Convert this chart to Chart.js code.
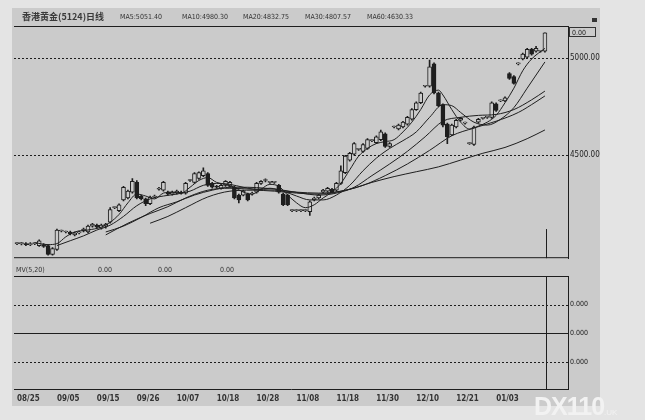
<!DOCTYPE html>
<html>
<head>
<meta charset="utf-8">
<script src="https://cdn.jsdelivr.net/npm/chart.js@4.4.0/dist/chart.umd.min.js"></script>
<style>
html, body { margin: 0; padding: 0; background: #e4e4e4; }
#wrap { position: relative; width: 645px; height: 420px; overflow: hidden; font-family: 'DejaVu Sans Condensed', 'Liberation Sans Narrow', 'Liberation Sans', sans-serif; }
#panel { position: absolute; left: 12px; top: 8px; width: 588px; height: 398px; background: #cbcbcb; }
canvas { position: absolute; left: 0; }
#c1 { top: 0; }
#c2 { top: 265px; }
.t { position: absolute; font-size: 7px; color: #333; white-space: nowrap; line-height: 9px; }
#title { font-family: 'Noto Sans CJK SC', sans-serif; font-size: 9px; font-weight: bold; color: #3a3a3a; }
#box { position: absolute; left: 569px; top: 27px; width: 27px; height: 10px; border: 1px solid #333; font-size: 7px; line-height: 10px; padding-left: 2px; box-sizing: border-box; color: #222; }
#logo { position: absolute; left: 534px; top: 392px; font: bold 25px 'Liberation Sans', sans-serif; color: #f2f2f2; letter-spacing: -1px; }
#logo span { font-size: 8px; font-weight: normal; letter-spacing: 0; }
</style>
</head>
<body>
<div id="wrap">
  <div id="panel"></div>
  <canvas id="c1" width="645" height="265"></canvas>
  <canvas id="c2" width="645" height="155"></canvas>
  <div class="t" id="title" style="left:22px;top:12px">香港黄金(5124)日线</div>
  <div id="box">0.00</div>
  <div class="t" style="left:592px;top:18px;width:5px;height:4px;background:#333"></div>
  <div class="t" style="left:16px;top:266px">MV(5,20)</div>
  <div id="logo">DX110<span>.UK</span></div>
</div>
<script>
// candles, one per trading day
const opens = [
  4045, 4045, 4045, 4040, 4045, 4035, 4040, 4035, 3990, 4015,
  4110, 4105, 4105, 4090, 4100, 4110, 4105, 4135, 4140, 4125,
  4135, 4155, 4230, 4215, 4270, 4280, 4310, 4360, 4290, 4275,
  4250, 4285, 4325, 4320, 4310, 4300, 4305, 4310, 4305, 4370,
  4360, 4380, 4395, 4405, 4355, 4340, 4330, 4345, 4340, 4335,
  4295, 4295, 4300, 4300, 4310, 4355, 4370, 4360, 4360, 4345,
  4300, 4295, 4215, 4215, 4215, 4215, 4210, 4270, 4280, 4310,
  4315, 4325, 4320, 4355, 4410, 4475, 4505, 4530, 4520, 4535,
  4575, 4565, 4580, 4610, 4545, 4645, 4635, 4645, 4660, 4685,
  4735, 4770, 4855, 4855, 4970, 4820, 4760, 4660, 4605, 4645,
  4680, 4665, 4560, 4555, 4670, 4690, 4695, 4695, 4765, 4780,
  4780, 4920, 4905, 4970, 4995, 5005, 5045, 5035, 5035, 5035
];
const closes = [
  4045, 4045, 4040, 4045, 4045, 4060, 4030, 3990, 4020, 4115,
  4110, 4105, 4095, 4100, 4105, 4120, 4135, 4145, 4130, 4140,
  4145, 4220, 4230, 4245, 4335, 4315, 4365, 4280, 4275, 4250,
  4285, 4290, 4330, 4360, 4300, 4310, 4315, 4305, 4355, 4370,
  4405, 4410, 4420, 4345, 4335, 4335, 4345, 4365, 4360, 4280,
  4270, 4315, 4270, 4305, 4355, 4365, 4370, 4360, 4360, 4310,
  4245, 4245, 4215, 4215, 4215, 4215, 4260, 4280, 4295, 4320,
  4330, 4310, 4355, 4420, 4495, 4510, 4560, 4530, 4555, 4580,
  4575, 4595, 4620, 4545, 4560, 4645, 4655, 4670, 4695, 4735,
  4770, 4820, 4855, 4955, 4820, 4755, 4655, 4595, 4655, 4680,
  4690, 4665, 4560, 4645, 4685, 4690, 4695, 4770, 4730, 4780,
  4795, 4895, 4870, 4970, 5020, 5045, 5020, 5050, 5035, 5130
];
const highs = [
  4050, 4052, 4050, 4050, 4050, 4065, 4045, 4040, 4025, 4120,
  4115, 4110, 4110, 4105, 4110, 4125, 4140, 4150, 4145, 4145,
  4150, 4230, 4235, 4250, 4340, 4320, 4380, 4370, 4295, 4280,
  4290, 4295, 4335, 4365, 4315, 4315, 4320, 4315, 4360, 4375,
  4410, 4415, 4435, 4410, 4360, 4345, 4350, 4370, 4365, 4340,
  4300, 4320, 4305, 4310, 4360, 4370, 4378, 4365, 4365, 4350,
  4305, 4300, 4220, 4220, 4220, 4220, 4265, 4285, 4300, 4325,
  4335, 4330, 4360, 4445, 4500, 4515, 4565, 4535, 4560, 4585,
  4580, 4600, 4630, 4615, 4565, 4650, 4660, 4675, 4700, 4740,
  4775, 4825, 4860, 4990, 4975, 4825, 4765, 4665, 4660, 4685,
  4695, 4670, 4565, 4650, 4690, 4695, 4700, 4775, 4770, 4785,
  4800, 4925, 4910, 4975, 5025, 5050, 5050, 5060, 5040, 5130
];
const lows = [
  4040, 4038, 4035, 4035, 4040, 4030, 4025, 3985, 3985, 4010,
  4105, 4100, 4090, 4085, 4095, 4105, 4100, 4130, 4125, 4120,
  4125, 4150, 4225, 4210, 4265, 4275, 4305, 4275, 4270, 4240,
  4245, 4280, 4320, 4315, 4295, 4295, 4300, 4300, 4300, 4365,
  4355, 4375, 4390, 4340, 4330, 4330, 4325, 4340, 4335, 4275,
  4255, 4290, 4265, 4295, 4305, 4350, 4362, 4355, 4355, 4305,
  4240, 4240, 4210, 4210, 4210, 4210, 4190, 4265, 4275, 4305,
  4310, 4305, 4315, 4350, 4405, 4470, 4500, 4525, 4515, 4530,
  4570, 4560, 4575, 4540, 4540, 4640, 4630, 4640, 4655, 4680,
  4730, 4765, 4850, 4850, 4815, 4750, 4645, 4560, 4600, 4640,
  4675, 4660, 4555, 4550, 4665, 4685, 4690, 4690, 4725, 4775,
  4775, 4890, 4865, 4965, 4990, 5000, 5015, 5030, 5030, 5030
];

// moving average lines, [bar, price]
const ma5 = [[4,4050],[7,4040],[9,4045],[11,4080],[13,4105],[16,4115],[19,4130],[21,4155],[23,4195],[25,4255],
  [27,4300],[29,4290],[31,4275],[33,4305],[35,4310],[37,4305],[39,4335],[41,4370],[43,4385],[45,4360],
  [47,4350],[49,4335],[51,4310],[53,4300],[55,4325],[57,4350],[59,4340],[61,4295],[63,4255],[65,4230],
  [67,4245],[69,4280],[71,4310],[73,4355],[75,4425],[77,4495],[79,4535],[81,4560],[83,4570],[85,4580],
  [87,4620],[89,4670],[91,4735],[93,4810],[95,4835],[96,4810],[98,4735],[100,4670],[102,4635],[104,4650],
  [106,4670],[108,4705],[110,4770],[112,4845],[114,4935],[116,4995],[119,5050]];
const ma10 = [[9,4035],[12,4060],[15,4085],[18,4115],[21,4140],[24,4185],[27,4240],[30,4275],[33,4290],[36,4300],
  [39,4315],[42,4345],[45,4355],[48,4350],[51,4335],[54,4325],[57,4330],[60,4315],[63,4290],[66,4270],
  [69,4270],[72,4295],[75,4345],[78,4420],[81,4485],[84,4535],[87,4575],[90,4620],[93,4695],[96,4760],
  [98,4755],[100,4720],[103,4670],[106,4655],[109,4685],[112,4745],[115,4845],[119,4980]];
const ma20 = [[20,4105],[24,4135],[28,4180],[32,4230],[36,4260],[40,4295],[44,4320],[48,4335],[52,4335],[56,4330],
  [60,4320],[64,4305],[68,4295],[72,4305],[76,4335],[80,4395],[84,4455],[88,4520],[92,4595],[96,4675],
  [100,4695],[104,4705],[108,4710],[112,4735],[116,4785],[119,4830]];
const ma30 = [[20,4090],[25,4150],[30,4200],[34,4235],[38,4280],[43,4320],[48,4330],[53,4325],[58,4320],[63,4310],
  [68,4305],[73,4315],[78,4345],[83,4395],[88,4455],[93,4525],[98,4600],[103,4640],[108,4675],[113,4720],
  [117,4775],[119,4805]];
const ma60 = [[30,4150],[34,4185],[38,4230],[43,4285],[48,4315],[53,4320],[58,4315],[63,4305],[68,4300],[75,4325],
  [80,4360],[85,4390],[90,4415],[95,4440],[100,4475],[105,4510],[110,4540],[115,4585],[119,4630]];

const maNames = ['MA5', 'MA10', 'MA20', 'MA30', 'MA60'];
const maLast = ['5051.40', '4980.30', '4832.75', '4807.57', '4630.33'];

const dateLabels = ['08/25', '09/05', '09/15', '09/26', '10/07', '10/18', '10/28', '11/08', '11/18', '11/30', '12/10', '12/21', '01/03'];
const dateBars = [0, 9, 18, 27, 36, 45, 54, 63, 72, 81, 90, 99, 108];
const priceTicks = [5000, 4500];
const mvLevels = [1, 0, -1];
const mvValues = ['0.00', '0.00', '0.00'];

const ink = '#1e1e1e';
const paper = '#cbcbcb';
Chart.defaults.font.family = "'DejaVu Sans Condensed', 'Liberation Sans Narrow', 'Liberation Sans', sans-serif";
Chart.defaults.color = '#262626';

const xMin = -0.68, xMax = 124.2;
const lastBar = closes.length - 1;

// header texts
const wrap = document.getElementById('wrap');
const maLeft = [120, 182, 243, 305, 367];
maNames.forEach((n, i) => {
  const d = document.createElement('div');
  d.className = 't';
  d.style.left = maLeft[i] + 'px';
  d.style.top = '13px';
  d.textContent = n + ':' + maLast[i];
  wrap.appendChild(d);
});
const mvLeft = [98, 158, 220];
mvValues.forEach((v, i) => {
  const d = document.createElement('div');
  d.className = 't';
  d.style.left = mvLeft[i] + 'px';
  d.style.top = '266px';
  d.textContent = v;
  wrap.appendChild(d);
});

const pts = arr => arr.map(p => ({ x: p[0], y: p[1] }));
const maLine = arr => ({
  type: 'line', data: pts(arr), borderColor: ink, borderWidth: 1,
  pointRadius: 0, cubicInterpolationMode: 'monotone', order: 0
});

// panel lines: dotted levels, frame edges, cursor line at the last bar
const frame = {
  id: 'frame',
  beforeDatasetsDraw(chart, args, opts) {
    const { ctx, chartArea: a, scales } = chart;
    ctx.save();
    ctx.strokeStyle = ink;
    ctx.lineWidth = 1;
    (opts.dotted || []).forEach(v => {
      const y = Math.round(scales.y.getPixelForValue(v)) + 0.5;
      ctx.setLineDash([2, 2]);
      ctx.beginPath(); ctx.moveTo(a.left, y); ctx.lineTo(a.right + 2, y); ctx.stroke();
    });
    ctx.setLineDash([]);
    (opts.solid || []).forEach(v => {
      const y = Math.round(scales.y.getPixelForValue(v)) + 0.5;
      ctx.beginPath(); ctx.moveTo(a.left, y); ctx.lineTo(a.right, y); ctx.stroke();
    });
    ctx.beginPath();
    ctx.moveTo(a.left, a.top + 0.5); ctx.lineTo(a.right, a.top + 0.5);
    if (opts.bottom) { ctx.moveTo(a.left, a.bottom - 0.5); ctx.lineTo(a.right, a.bottom - 0.5); }
    const cx = Math.round(scales.x.getPixelForValue(lastBar)) + 1.5;
    const cy = opts.cursorFrom != null ? scales.y.getPixelForValue(opts.cursorFrom) : a.top;
    ctx.moveTo(cx, cy); ctx.lineTo(cx, a.bottom);
    ctx.stroke();
    ctx.restore();
  }
};

new Chart(document.getElementById('c1'), {
  type: 'bar',
  data: {
    datasets: [
      maLine(ma5), maLine(ma10), maLine(ma20), maLine(ma30), maLine(ma60),
      {
        label: 'body',
        data: opens.map((o, i) => ({ x: i, y: [o, closes[i]] })),
        grouped: false, barThickness: 4, minBarLength: 1,
        backgroundColor: c => closes[c.dataIndex] >= opens[c.dataIndex] ? paper : ink,
        borderColor: ink, borderWidth: 1, borderSkipped: false, order: 1
      },
      {
        label: 'wick',
        data: lows.map((l, i) => ({ x: i, y: [l, highs[i]] })),
        grouped: false, barThickness: 1, backgroundColor: ink, order: 2
      }
    ]
  },
  options: {
    responsive: false, animation: false,
    layout: { padding: { left: 14, top: 26, right: 0, bottom: 0 } },
    plugins: {
      legend: { display: false }, tooltip: { enabled: false },
      frame: { dotted: priceTicks, bottom: true, cursorFrom: 4120 }
    },
    scales: {
      x: { type: 'linear', min: xMin, max: xMax, offset: false, display: false },
      y: {
        position: 'right', min: 3970, max: 5165,
        afterFit: s => { s.width = 77; },
        afterBuildTicks: s => { s.ticks = priceTicks.map(v => ({ value: v })); },
        ticks: { callback: v => v.toFixed(2), font: { size: 8 }, color: '#222', padding: 2 },
        grid: { display: false, drawTicks: false },
        border: { color: ink }
      }
    }
  },
  plugins: [frame]
});

new Chart(document.getElementById('c2'), {
  type: 'line',
  data: { datasets: [] },
  options: {
    responsive: false, animation: false,
    layout: { padding: { left: 14, top: 11, right: 0, bottom: 0 } },
    plugins: {
      legend: { display: false }, tooltip: { enabled: false },
      frame: { dotted: [1, -1], solid: [0] }
    },
    scales: {
      x: {
        type: 'linear', min: xMin, max: xMax, offset: false,
        afterFit: s => { s.height = 31; },
        afterBuildTicks: s => { s.ticks = dateBars.map(v => ({ value: v })); },
        ticks: {
          callback: (v, i) => dateLabels[i], align: 'start', maxRotation: 0, autoSkip: false,
          font: { size: 8, weight: 'bold' }, color: '#333', padding: 5
        },
        grid: { display: false, drawTicks: false },
        border: { color: ink }
      },
      y: {
        position: 'right', min: -1.95, max: 2.0,
        afterFit: s => { s.width = 77; },
        afterBuildTicks: s => { s.ticks = mvLevels.map(v => ({ value: v })); },
        ticks: { callback: () => '0.000', font: { size: 7 }, color: '#222', padding: 2 },
        grid: { display: false, drawTicks: false },
        border: { color: ink }
      }
    }
  },
  plugins: [frame]
});
</script>
</body>
</html>
